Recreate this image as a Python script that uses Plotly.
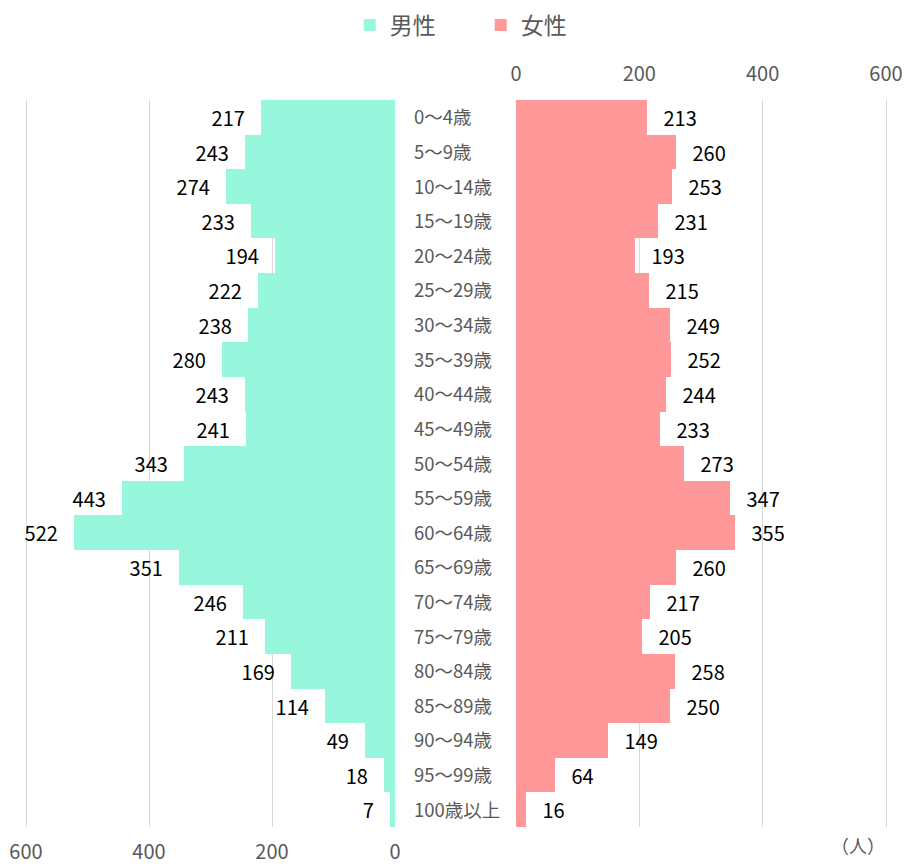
import plotly.graph_objects as go

categories = ["0～4歳", "5～9歳", "10～14歳", "15～19歳", "20～24歳", "25～29歳", "30～34歳",
              "35～39歳", "40～44歳", "45～49歳", "50～54歳", "55～59歳", "60～64歳", "65～69歳",
              "70～74歳", "75～79歳", "80～84歳", "85～89歳", "90～94歳", "95～99歳", "100歳以上"]
male = [217, 243, 274, 233, 194, 222, 238, 280, 243, 241, 343, 443, 522, 351, 246, 211, 169, 114, 49, 18, 7]
female = [213, 260, 253, 231, 193, 215, 249, 252, 244, 233, 273, 347, 355, 260, 217, 205, 258, 250, 149, 64, 16]
tick_vals = [0, 200, 400, 600]
tick_text = ["0", "200", "400", "600"]

W, H = 907, 866
FONT = "Noto Sans CJK JP"
GRAY = "#595959"
NB = "\u00a0"

fig = go.Figure()
fig.add_trace(go.Bar(
    y=categories, x=male, orientation="h", name="男性",
    marker=dict(color="#96F7DC", line=dict(width=0)),
    xaxis="x", yaxis="y", width=1,
    texttemplate="%{x}" + NB * 3, textposition="outside",
    textfont=dict(size=20, color="#000000", family=FONT),
    cliponaxis=False,
))
fig.add_trace(go.Bar(
    y=categories, x=female, orientation="h", name="女性",
    marker=dict(color="#FF9999", line=dict(width=0)),
    xaxis="x2", yaxis="y2", width=1,
    texttemplate=NB * 3 + "%{x}", textposition="outside",
    textfont=dict(size=20, color="#000000", family=FONT),
    cliponaxis=False,
))

top_px, bot_px = 100, 827
ph = bot_px - top_px

axis_common = dict(
    tickvals=tick_vals, ticktext=tick_text, showgrid=True, gridcolor="#D9D9D9", gridwidth=1,
    zeroline=False, showline=False, ticks="", tickfont=dict(size=20, color=GRAY, family=FONT),
    fixedrange=True, automargin=False,
)

RMAX = 606
lk = 369 / 600
rk = 370 / 600

fig.update_layout(
    width=W, height=H,
    margin=dict(l=0, r=0, t=top_px, b=H - bot_px),
    paper_bgcolor="white", plot_bgcolor="white",
    bargap=0, barmode="overlay",
    font=dict(family=FONT, color=GRAY),
    xaxis=dict(domain=[(395 - RMAX * lk) / W, 395 / W], range=[RMAX, 0], side="bottom", anchor="y",
               ticklabelstandoff=11, **axis_common),
    xaxis2=dict(domain=[516 / W, (516 + RMAX * rk) / W], range=[0, RMAX], side="top", anchor="y2",
                ticklabelstandoff=14, **axis_common),
    yaxis=dict(categoryorder="array", categoryarray=categories, autorange="reversed",
               showticklabels=False, showgrid=False, zeroline=False, anchor="x", domain=[0, 1],
               automargin=False),
    yaxis2=dict(categoryorder="array", categoryarray=categories, autorange="reversed",
                showticklabels=False, showgrid=False, zeroline=False, anchor="x2", domain=[0, 1],
                automargin=False),
    legend=dict(orientation="h", x=0.53, xanchor="center", y=(bot_px - 25) / ph, yanchor="middle",
                font=dict(size=23, color=GRAY, family=FONT), itemwidth=30, traceorder="normal",
                entrywidthmode="pixels", entrywidth=86),
    showlegend=True,
)

for c in categories:
    fig.add_annotation(x=412 / W, xref="paper", y=c, yref="y", text=c, showarrow=False,
                       xanchor="left", yanchor="middle", yshift=1,
                       font=dict(size=18.5, color=GRAY, family=FONT))

fig.add_annotation(x=858 / W, xref="paper", y=(bot_px - 845) / ph, yref="paper", text="（人）",
                   showarrow=False, xanchor="center", yanchor="middle",
                   font=dict(size=18, color=GRAY, family=FONT))

fig.write_html("out.html")
